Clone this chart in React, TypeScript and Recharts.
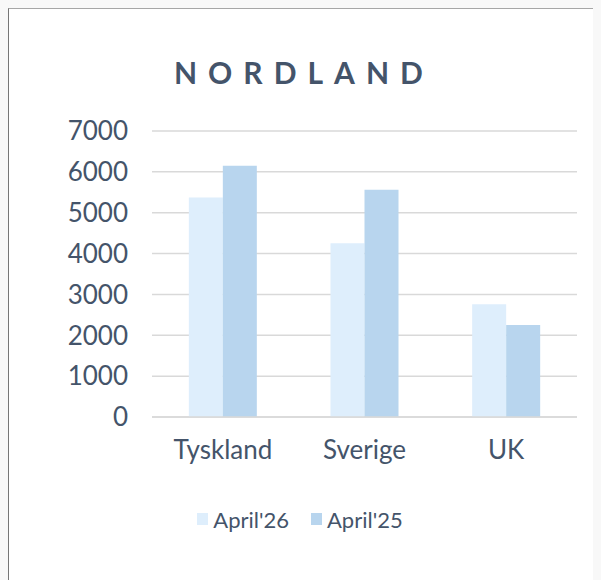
import React from "react";
import { BarChart, Bar, XAxis, YAxis, CartesianGrid, Legend } from "recharts";

const categories = ["Tyskland", "Sverige", "UK"];
const april26 = [5370, 4250, 2760];
const april25 = [6150, 5560, 2250];
const yTicks = [0, 1000, 2000, 3000, 4000, 5000, 6000, 7000];
const seriesNames = ["April'26", "April'25"];

const data = categories.map((c, i) => ({ name: c, a26: april26[i], a25: april25[i] }));

const TEXT = "#44546A";
const C26 = "#DEEEFC";
const C25 = "#B8D5EE";
const FONT = "Lato, 'Noto Sans', sans-serif";

if (typeof document !== "undefined") {
  document.body.style.background = "#f8f8f8";
  document.body.style.overflow = "hidden";
  document.documentElement.style.overflow = "hidden";
}

const LegendContent = () => (
  <div
    style={{
      height: 24,
      display: "flex",
      justifyContent: "center",
      alignItems: "center",
      fontFamily: FONT,
      fontSize: 22,
      color: TEXT,
      paddingLeft: 14,
    }}
  >
    {[C26, C25].map((col, i) => (
      <div key={i} style={{ display: "flex", alignItems: "center", marginRight: i === 0 ? 22 : 0 }}>
        <div style={{ width: 11, height: 12, background: col, marginRight: 5 }} />
        <span>{seriesNames[i]}</span>
      </div>
    ))}
  </div>
);

export default function App() {
  return (
    <div
      style={{
        position: "relative",
        width: 630,
        height: 600,
        background: "#ffffff",
        borderTop: "1px solid #a6a6a6",
        borderLeft: "1px solid #767676",
        boxSizing: "content-box",
        overflow: "hidden",
      }}
    >
      <div
        style={{
          position: "absolute",
          left: 165,
          top: 45,
          lineHeight: "36px",
          fontFamily: FONT,
          fontWeight: 700,
          fontSize: 30,
          letterSpacing: "11px",
          color: TEXT,
          whiteSpace: "nowrap",
        }}
      >
        NORDLAND
      </div>
      <BarChart
        width={592}
        height={571}
        data={data}
        margin={{ top: 122, right: 24, bottom: 49, left: 0 }}
        barCategoryGap="26%"
        barGap={0}
        style={{ outline: "none" }}
      >
        <CartesianGrid vertical={false} stroke="#d9d9d9" strokeWidth={1.5} />
        <XAxis
          dataKey="name"
          height={90}
          tickSize={0}
          tickMargin={24}
          axisLine={{ stroke: "#d9d9d9", strokeWidth: 1.5 }}
          tick={{ fill: TEXT, fontSize: 26, fontFamily: FONT }}
        />
        <YAxis
          width={143}
          domain={[0, 7000]}
          ticks={yTicks}
          tickSize={0}
          tickMargin={24}
          axisLine={false}
          tick={{ fill: TEXT, fontSize: 26, fontFamily: FONT }}
        />
        <Legend verticalAlign="bottom" content={<LegendContent />} />
        <Bar dataKey="a26" name={seriesNames[0]} fill={C26} isAnimationActive={false} />
        <Bar dataKey="a25" name={seriesNames[1]} fill={C25} isAnimationActive={false} />
      </BarChart>
    </div>
  );
}
